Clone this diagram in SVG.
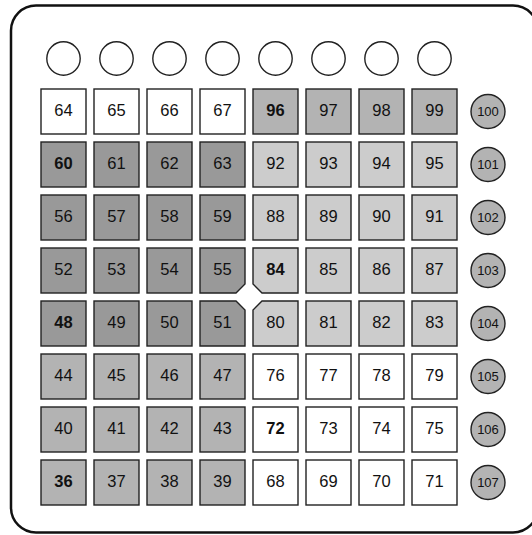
<svg xmlns="http://www.w3.org/2000/svg" width="532" height="535" viewBox="0 0 532 535">
<style>
.frame{fill:#fff;stroke:#111;stroke-width:2.5}
.pad{stroke:#222;stroke-width:1.4}
.w{fill:#fff}.d{fill:#999}.m{fill:#b3b3b3}.l{fill:#ccc}
.t{font-family:"Liberation Sans",Arial,sans-serif;font-size:16.5px;fill:#111;text-anchor:middle}
.b{font-weight:bold}
.tc{fill:#fff;stroke:#222;stroke-width:1.4}
.rc{fill:#b3b3b3;stroke:#222;stroke-width:1.4}
.st{font-family:"Liberation Sans",Arial,sans-serif;font-size:13px;fill:#111;text-anchor:middle}
</style>
<rect class="frame" x="11" y="5.5" width="527" height="527" rx="25"/>
<g id="top-buttons">
<circle class="tc" cx="63.5" cy="58.5" r="16.7"/>
<circle class="tc" cx="116.5" cy="58.5" r="16.7"/>
<circle class="tc" cx="169.5" cy="58.5" r="16.7"/>
<circle class="tc" cx="222.5" cy="58.5" r="16.7"/>
<circle class="tc" cx="275.5" cy="58.5" r="16.7"/>
<circle class="tc" cx="328.5" cy="58.5" r="16.7"/>
<circle class="tc" cx="381.5" cy="58.5" r="16.7"/>
<circle class="tc" cx="434.5" cy="58.5" r="16.7"/>
</g>
<g id="pads">
<g id="p64"><rect class="pad w" x="41" y="89" width="45" height="45"/><text class="t" x="63.5" y="116">64</text></g>
<g id="p65"><rect class="pad w" x="94" y="89" width="45" height="45"/><text class="t" x="116.5" y="116">65</text></g>
<g id="p66"><rect class="pad w" x="147" y="89" width="45" height="45"/><text class="t" x="169.5" y="116">66</text></g>
<g id="p67"><rect class="pad w" x="200" y="89" width="45" height="45"/><text class="t" x="222.5" y="116">67</text></g>
<g id="p96"><rect class="pad m" x="253" y="89" width="45" height="45"/><text class="t b" x="275.5" y="116">96</text></g>
<g id="p97"><rect class="pad m" x="306" y="89" width="45" height="45"/><text class="t" x="328.5" y="116">97</text></g>
<g id="p98"><rect class="pad m" x="359" y="89" width="45" height="45"/><text class="t" x="381.5" y="116">98</text></g>
<g id="p99"><rect class="pad m" x="412" y="89" width="45" height="45"/><text class="t" x="434.5" y="116">99</text></g>
<g id="p60"><rect class="pad d" x="41" y="142" width="45" height="45"/><text class="t b" x="63.5" y="169">60</text></g>
<g id="p61"><rect class="pad d" x="94" y="142" width="45" height="45"/><text class="t" x="116.5" y="169">61</text></g>
<g id="p62"><rect class="pad d" x="147" y="142" width="45" height="45"/><text class="t" x="169.5" y="169">62</text></g>
<g id="p63"><rect class="pad d" x="200" y="142" width="45" height="45"/><text class="t" x="222.5" y="169">63</text></g>
<g id="p92"><rect class="pad l" x="253" y="142" width="45" height="45"/><text class="t" x="275.5" y="169">92</text></g>
<g id="p93"><rect class="pad l" x="306" y="142" width="45" height="45"/><text class="t" x="328.5" y="169">93</text></g>
<g id="p94"><rect class="pad l" x="359" y="142" width="45" height="45"/><text class="t" x="381.5" y="169">94</text></g>
<g id="p95"><rect class="pad l" x="412" y="142" width="45" height="45"/><text class="t" x="434.5" y="169">95</text></g>
<g id="p56"><rect class="pad d" x="41" y="195" width="45" height="45"/><text class="t" x="63.5" y="222">56</text></g>
<g id="p57"><rect class="pad d" x="94" y="195" width="45" height="45"/><text class="t" x="116.5" y="222">57</text></g>
<g id="p58"><rect class="pad d" x="147" y="195" width="45" height="45"/><text class="t" x="169.5" y="222">58</text></g>
<g id="p59"><rect class="pad d" x="200" y="195" width="45" height="45"/><text class="t" x="222.5" y="222">59</text></g>
<g id="p88"><rect class="pad l" x="253" y="195" width="45" height="45"/><text class="t" x="275.5" y="222">88</text></g>
<g id="p89"><rect class="pad l" x="306" y="195" width="45" height="45"/><text class="t" x="328.5" y="222">89</text></g>
<g id="p90"><rect class="pad l" x="359" y="195" width="45" height="45"/><text class="t" x="381.5" y="222">90</text></g>
<g id="p91"><rect class="pad l" x="412" y="195" width="45" height="45"/><text class="t" x="434.5" y="222">91</text></g>
<g id="p52"><rect class="pad d" x="41" y="248" width="45" height="45"/><text class="t" x="63.5" y="275">52</text></g>
<g id="p53"><rect class="pad d" x="94" y="248" width="45" height="45"/><text class="t" x="116.5" y="275">53</text></g>
<g id="p54"><rect class="pad d" x="147" y="248" width="45" height="45"/><text class="t" x="169.5" y="275">54</text></g>
<g id="p55"><path class="pad d" d="M200 248H245V284L236 293H200Z"/><text class="t" x="222.5" y="275">55</text></g>
<g id="p84"><path class="pad l" d="M253 248H298V293H262L253 284Z"/><text class="t b" x="275.5" y="275">84</text></g>
<g id="p85"><rect class="pad l" x="306" y="248" width="45" height="45"/><text class="t" x="328.5" y="275">85</text></g>
<g id="p86"><rect class="pad l" x="359" y="248" width="45" height="45"/><text class="t" x="381.5" y="275">86</text></g>
<g id="p87"><rect class="pad l" x="412" y="248" width="45" height="45"/><text class="t" x="434.5" y="275">87</text></g>
<g id="p48"><rect class="pad d" x="41" y="301" width="45" height="45"/><text class="t b" x="63.5" y="328">48</text></g>
<g id="p49"><rect class="pad d" x="94" y="301" width="45" height="45"/><text class="t" x="116.5" y="328">49</text></g>
<g id="p50"><rect class="pad d" x="147" y="301" width="45" height="45"/><text class="t" x="169.5" y="328">50</text></g>
<g id="p51"><path class="pad d" d="M200 301H236L245 310V346H200Z"/><text class="t" x="222.5" y="328">51</text></g>
<g id="p80"><path class="pad l" d="M262 301H298V346H253V310Z"/><text class="t" x="275.5" y="328">80</text></g>
<g id="p81"><rect class="pad l" x="306" y="301" width="45" height="45"/><text class="t" x="328.5" y="328">81</text></g>
<g id="p82"><rect class="pad l" x="359" y="301" width="45" height="45"/><text class="t" x="381.5" y="328">82</text></g>
<g id="p83"><rect class="pad l" x="412" y="301" width="45" height="45"/><text class="t" x="434.5" y="328">83</text></g>
<g id="p44"><rect class="pad m" x="41" y="354" width="45" height="45"/><text class="t" x="63.5" y="381">44</text></g>
<g id="p45"><rect class="pad m" x="94" y="354" width="45" height="45"/><text class="t" x="116.5" y="381">45</text></g>
<g id="p46"><rect class="pad m" x="147" y="354" width="45" height="45"/><text class="t" x="169.5" y="381">46</text></g>
<g id="p47"><rect class="pad m" x="200" y="354" width="45" height="45"/><text class="t" x="222.5" y="381">47</text></g>
<g id="p76"><rect class="pad w" x="253" y="354" width="45" height="45"/><text class="t" x="275.5" y="381">76</text></g>
<g id="p77"><rect class="pad w" x="306" y="354" width="45" height="45"/><text class="t" x="328.5" y="381">77</text></g>
<g id="p78"><rect class="pad w" x="359" y="354" width="45" height="45"/><text class="t" x="381.5" y="381">78</text></g>
<g id="p79"><rect class="pad w" x="412" y="354" width="45" height="45"/><text class="t" x="434.5" y="381">79</text></g>
<g id="p40"><rect class="pad m" x="41" y="407" width="45" height="45"/><text class="t" x="63.5" y="434">40</text></g>
<g id="p41"><rect class="pad m" x="94" y="407" width="45" height="45"/><text class="t" x="116.5" y="434">41</text></g>
<g id="p42"><rect class="pad m" x="147" y="407" width="45" height="45"/><text class="t" x="169.5" y="434">42</text></g>
<g id="p43"><rect class="pad m" x="200" y="407" width="45" height="45"/><text class="t" x="222.5" y="434">43</text></g>
<g id="p72"><rect class="pad w" x="253" y="407" width="45" height="45"/><text class="t b" x="275.5" y="434">72</text></g>
<g id="p73"><rect class="pad w" x="306" y="407" width="45" height="45"/><text class="t" x="328.5" y="434">73</text></g>
<g id="p74"><rect class="pad w" x="359" y="407" width="45" height="45"/><text class="t" x="381.5" y="434">74</text></g>
<g id="p75"><rect class="pad w" x="412" y="407" width="45" height="45"/><text class="t" x="434.5" y="434">75</text></g>
<g id="p36"><rect class="pad m" x="41" y="460" width="45" height="45"/><text class="t b" x="63.5" y="487">36</text></g>
<g id="p37"><rect class="pad m" x="94" y="460" width="45" height="45"/><text class="t" x="116.5" y="487">37</text></g>
<g id="p38"><rect class="pad m" x="147" y="460" width="45" height="45"/><text class="t" x="169.5" y="487">38</text></g>
<g id="p39"><rect class="pad m" x="200" y="460" width="45" height="45"/><text class="t" x="222.5" y="487">39</text></g>
<g id="p68"><rect class="pad w" x="253" y="460" width="45" height="45"/><text class="t" x="275.5" y="487">68</text></g>
<g id="p69"><rect class="pad w" x="306" y="460" width="45" height="45"/><text class="t" x="328.5" y="487">69</text></g>
<g id="p70"><rect class="pad w" x="359" y="460" width="45" height="45"/><text class="t" x="381.5" y="487">70</text></g>
<g id="p71"><rect class="pad w" x="412" y="460" width="45" height="45"/><text class="t" x="434.5" y="487">71</text></g>
</g>
<g id="side-buttons">
<g id="b100"><circle class="rc" cx="488" cy="111.5" r="17"/><text class="st" x="488" y="116.3">100</text></g>
<g id="b101"><circle class="rc" cx="488" cy="164.5" r="17"/><text class="st" x="488" y="169.3">101</text></g>
<g id="b102"><circle class="rc" cx="488" cy="217.5" r="17"/><text class="st" x="488" y="222.3">102</text></g>
<g id="b103"><circle class="rc" cx="488" cy="270.5" r="17"/><text class="st" x="488" y="275.3">103</text></g>
<g id="b104"><circle class="rc" cx="488" cy="323.5" r="17"/><text class="st" x="488" y="328.3">104</text></g>
<g id="b105"><circle class="rc" cx="488" cy="376.5" r="17"/><text class="st" x="488" y="381.3">105</text></g>
<g id="b106"><circle class="rc" cx="488" cy="429.5" r="17"/><text class="st" x="488" y="434.3">106</text></g>
<g id="b107"><circle class="rc" cx="488" cy="482.5" r="17"/><text class="st" x="488" y="487.3">107</text></g>
</g>
</svg>
